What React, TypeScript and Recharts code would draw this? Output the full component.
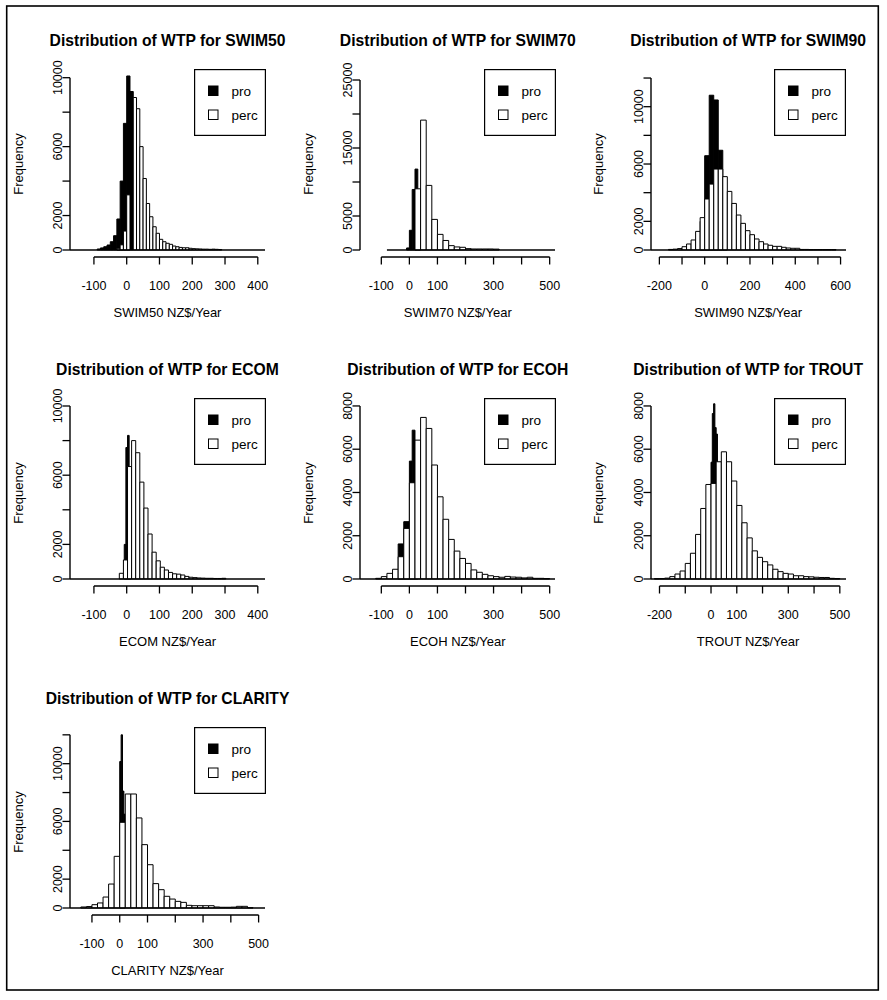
import React from 'react';
import { ComposedChart, XAxis, YAxis, ReferenceArea, ReferenceLine, Legend } from 'recharts';

const FONT = '"Liberation Sans", Arial, Helvetica, sans-serif';

// ---------- data: histogram counts (bins given by start + width) ----------
// SWIM50
const swim50ProStart = -90;
const swim50ProWidth = 10;
const swim50Pro = [60, 120, 190, 290, 480, 830, 1800, 4000, 7350, 10100, 9200];
const swim50PercStart = -30;
const swim50PercWidth = 10;
const swim50Perc = [100, 300, 1100, 3200, 0, 8850, 8200, 6000, 4150, 2700, 1930, 1350, 970, 620, 480, 390, 330, 230, 190, 150, 130, 130, 100, 80, 70, 60, 50, 50, 40, 50, 40, 30];

// SWIM70
const swim70ProStart = -10;
const swim70ProWidth = 10;
const swim70Pro = [300, 2900, 8900, 11900, 6000];
const swim70PercStart = 20;
const swim70PercWidth = 20;
const swim70Perc = [9000, 19100, 9500, 4500, 2300, 1400, 640, 450, 400, 200, 150, 150, 150, 150, 130];

// SWIM90
const swim90ProStart = -20;
const swim90ProWidth = 20;
const swim90Pro = [2000, 6580, 10800, 10470, 6960, 3000];
const swim90PercStart = -160;
const swim90PercWidth = 20;
const swim90Perc = [40, 60, 100, 230, 420, 700, 1300, 2260, 3560, 4600, 5650, 5650, 5120, 4090, 3250, 2440, 1860, 1350, 1070, 770, 580, 420, 330, 255, 255, 190, 140, 120, 120, 40, 40, 30, 30, 30, 30, 30, 30];

// ECOM
const ecomProStart = -7.5;
const ecomProWidth = 5;
const ecomPro = [2000, 7600, 8300, 3000];
const ecomPercStart = -22.5;
const ecomPercWidth = 12.5;
const ecomPerc = [330, 1100, 6500, 8000, 7300, 5600, 4100, 2600, 1550, 1050, 680, 520, 380, 300, 280, 230, 150, 100, 80, 60, 50, 40, 40, 30, 30, 40];

// ECOH
const ecohProStart = -40;
const ecohProWidth = 10;
const ecohPro = [1620, 1620, 2650, 2650, 5450, 6880, 4000];
const ecohPercStart = -120;
const ecohPercWidth = 20;
const ecohPerc = [30, 110, 260, 450, 1030, 2340, 4450, 6420, 7470, 6960, 5270, 3800, 2760, 1830, 1290, 950, 720, 420, 310, 215, 150, 110, 80, 120, 90, 80, 50, 80, 30, 30, 20];

// TROUT
const troutProStart = 0;
const troutProWidth = 5;
const troutPro = [5400, 7650, 8100, 7000, 6700, 3000];
const troutPercStart = -220;
const troutPercWidth = 20;
const troutPerc = [15, 20, 40, 110, 230, 370, 720, 1190, 2060, 3260, 4370, 4420, 5420, 5880, 5420, 4530, 3400, 2600, 1900, 1300, 1000, 800, 650, 450, 340, 260, 230, 150, 150, 110, 100, 80, 70, 70, 30, 20];

// CLARITY
const clarityProStart = 0;
const clarityProWidth = 5;
const clarityPro = [10150, 12000, 8100, 6500];
const clarityPercStart = -140;
const clarityPercWidth = 20;
const clarityPerc = [70, 100, 230, 350, 760, 1660, 3580, 5940, 7900, 7900, 6240, 4390, 3000, 1690, 1270, 810, 620, 460, 390, 185, 160, 160, 160, 160, 70, 50, 50, 60, 115, 115, 20];

// ---------- axes ----------
const ticksX_m100_400 = [-100, 0, 100, 200, 300, 400];
const ticksX_m100_500 = [-100, 0, 100, 200, 300, 400, 500];
const ticksX_m200_600 = [-200, -100, 0, 100, 200, 300, 400, 500, 600];
const ticksX_m200_500 = [-200, -100, 0, 100, 200, 300, 400, 500];
const labelsX_m100_500 = [-100, 0, 100, 300, 500];
const labelsX_m200_600 = [-200, 0, 200, 400, 600];
const labelsX_m200_500 = [-200, 0, 100, 300, 500];

const ticksY10k = [0, 2000, 4000, 6000, 8000, 10000];
const ticksY12k = [0, 2000, 4000, 6000, 8000, 10000, 12000];
const ticksY8k = [0, 2000, 4000, 6000, 8000];
const ticksY25k = [0, 5000, 10000, 15000, 20000, 25000];
const labelsY10k = [0, 2000, 6000, 10000];
const labelsY25k = [0, 5000, 15000, 25000];

const seriesNames = ['pro', 'perc'];

type Bin = { lo: number; hi: number; n: number };
function toBins(start: number, width: number, counts: number[]): Bin[] {
  return counts
    .map((n, i) => ({ lo: start + i * width, hi: start + (i + 1) * width, n }))
    .filter((b) => b.n > 0);
}

type PanelCfg = {
  name: string;
  col: number;
  row: number;
  xDomain: [number, number];
  yDomain: [number, number];
  xTicks: number[];
  xLabels: number[];
  yTicks: number[];
  yLabels: number[];
  pro: Bin[];
  perc: Bin[];
  baseFrom: number;
};

const panels: PanelCfg[] = [
  { name: 'SWIM50', col: 0, row: 0, xDomain: [-173, 422], yDomain: [-406, 10563], xTicks: ticksX_m100_400, xLabels: ticksX_m100_400, yTicks: ticksY10k, yLabels: labelsY10k, pro: toBins(swim50ProStart, swim50ProWidth, swim50Pro), perc: toBins(swim50PercStart, swim50PercWidth, swim50Perc), baseFrom: -173 },
  { name: 'SWIM70', col: 1, row: 0, xDomain: [-176, 519], yDomain: [-1029, 26765], xTicks: ticksX_m100_500, xLabels: labelsX_m100_500, yTicks: ticksY25k, yLabels: labelsY25k, pro: toBins(swim70ProStart, swim70ProWidth, swim70Pro), perc: toBins(swim70PercStart, swim70PercWidth, swim70Perc), baseFrom: -80 },
  { name: 'SWIM90', col: 2, row: 0, xDomain: [-237, 624], yDomain: [-488, 12700], xTicks: ticksX_m200_600, xLabels: labelsX_m200_600, yTicks: ticksY12k, yLabels: labelsY10k, pro: toBins(swim90ProStart, swim90ProWidth, swim90Pro), perc: toBins(swim90PercStart, swim90PercWidth, swim90Perc), baseFrom: -237 },
  { name: 'ECOM', col: 0, row: 1, xDomain: [-173, 422], yDomain: [-405, 10520], xTicks: ticksX_m100_400, xLabels: ticksX_m100_400, yTicks: ticksY10k, yLabels: labelsY10k, pro: toBins(ecomProStart, ecomProWidth, ecomPro), perc: toBins(ecomPercStart, ecomPercWidth, ecomPerc), baseFrom: -173 },
  { name: 'ECOH', col: 1, row: 1, xDomain: [-176, 519], yDomain: [-324, 8414], xTicks: ticksX_m100_500, xLabels: labelsX_m100_500, yTicks: ticksY8k, yLabels: ticksY8k, pro: toBins(ecohProStart, ecohProWidth, ecohPro), perc: toBins(ecohPercStart, ecohPercWidth, ecohPerc), baseFrom: -176 },
  { name: 'TROUT', col: 2, row: 1, xDomain: [-233, 524], yDomain: [-324, 8414], xTicks: ticksX_m200_500, xLabels: labelsX_m200_500, yTicks: ticksY8k, yLabels: ticksY8k, pro: toBins(troutProStart, troutProWidth, troutPro), perc: toBins(troutPercStart, troutPercWidth, troutPerc), baseFrom: -233 },
  { name: 'CLARITY', col: 0, row: 2, xDomain: [-179, 523], yDomain: [-485, 12612], xTicks: ticksX_m100_500, xLabels: labelsX_m100_500, yTicks: ticksY12k, yLabels: labelsY10k, pro: toBins(clarityProStart, clarityProWidth, clarityPro), perc: toBins(clarityPercStart, clarityPercWidth, clarityPerc), baseFrom: -179 },
];

// ---------- layout ----------
const X0 = 7;
const Y0 = 6;
const COL_W = 290.3;
const ROW_H = 329;
const CW = 290;
const CH = 329;
const M = { top: 62, right: 32, bottom: 77, left: 62 };
const AXW = 1; // axis box size (plot = margins + 1)
const PW = CW - M.left - AXW - M.right; // 195
const LEG_W = 72;
const LEG_H = 67;

const makeXTick = (shown: number[]) => (p: any) => {
  const v = p.payload.value;
  if (!shown.includes(v)) return <g />;
  return (
    <text x={p.x} y={p.y + 25} textAnchor="middle" fontSize={12.5} fontFamily={FONT} fill="#000">
      {v}
    </text>
  );
};

const makeYTick = (shown: number[]) => (p: any) => {
  const v = p.payload.value;
  if (!shown.includes(v)) return <g />;
  return (
    <text transform={`translate(${p.x - 1},${p.y}) rotate(-90)`} textAnchor="middle" fontSize={12.5} fontFamily={FONT} fill="#000">
      {v}
    </text>
  );
};

const LegendBox = () => (
  <svg width={LEG_W} height={LEG_H} style={{ display: 'block' }}>
    <rect x={0.6} y={0.6} width={LEG_W - 1.2} height={LEG_H - 1.2} fill="#fff" stroke="#000" strokeWidth={1.2} />
    {seriesNames.map((s, i) => (
      <g key={s}>
        <rect x={14.5} y={17 + i * 24} width={9.5} height={9.5} fill={i === 0 ? '#000' : '#fff'} stroke="#000" strokeWidth={1} />
        <text x={37.5} y={27 + i * 24} fontSize={13.5} fontFamily={FONT} fill="#000">
          {s}
        </text>
      </g>
    ))}
  </svg>
);

function Panel({ p }: { p: PanelCfg }) {
  const left = X0 + p.col * COL_W;
  const top = Y0 + p.row * ROW_H;
  const data = p.perc.map((b) => ({ x: (b.lo + b.hi) / 2, n: b.n }));
  const [xlo, xhi] = p.xDomain;
  const ylo = p.yDomain[0];
  const firstX = p.xTicks[0];
  const lastX = p.xTicks[p.xTicks.length - 1];
  const topY = p.yTicks[p.yTicks.length - 1];
  const tl = { stroke: '#000', strokeWidth: 1.3 };
  return (
    <div style={{ position: 'absolute', left, top, width: CW, height: CH }}>
      <ComposedChart width={CW} height={CH} margin={M} data={data}>
        <XAxis
          type="number"
          dataKey="x"
          domain={p.xDomain}
          allowDataOverflow
          ticks={p.xTicks}
          interval={0}
          height={AXW}
          axisLine={false}
          tickLine={tl}
          stroke="#000"
          tickSize={7.5}
          tickMargin={0}
          tick={makeXTick(p.xLabels)}
        />
        <YAxis
          type="number"
          domain={p.yDomain}
          allowDataOverflow
          ticks={p.yTicks}
          interval={0}
          width={AXW}
          axisLine={false}
          tickLine={tl}
          stroke="#000"
          tickSize={7.5}
          tickMargin={0}
          tick={makeYTick(p.yLabels)}
        />
        <ReferenceLine
          segment={[{ x: p.baseFrom, y: 0 }, { x: xhi, y: 0 }]}
          stroke="#000"
          strokeWidth={1.3}
          ifOverflow="visible"
        />
        {p.pro.map((b, i) => (
          <ReferenceArea
            key={'pro' + i}
            x1={b.lo}
            x2={b.hi}
            y1={0}
            y2={b.n}
            fill="#000"
            fillOpacity={1}
            stroke="#000"
            strokeWidth={1}
            strokeOpacity={1}
            ifOverflow="hidden"
          />
        ))}
        {p.perc.map((b, i) => (
          <ReferenceArea
            key={'perc' + i}
            x1={b.lo}
            x2={b.hi}
            y1={0}
            y2={b.n}
            fill="#fff"
            fillOpacity={1}
            stroke="#000"
            strokeWidth={1}
            strokeOpacity={1}
            ifOverflow="hidden"
          />
        ))}
        <ReferenceLine
          segment={[{ x: firstX, y: ylo }, { x: lastX, y: ylo }]}
          stroke="#000"
          strokeOpacity={1}
          strokeWidth={1.4}
          ifOverflow="visible"
        />
        <ReferenceLine
          segment={[{ x: xlo, y: 0 }, { x: xlo, y: topY }]}
          stroke="#000"
          strokeOpacity={1}
          strokeWidth={1.4}
          ifOverflow="visible"
        />
        <Legend
          layout="vertical"
          align="center"
          verticalAlign="middle"
          content={() => <LegendBox />}
          wrapperStyle={{ left: M.left + AXW + PW - LEG_W + 0.5, top: M.top + 1, width: LEG_W, height: LEG_H }}
        />
      </ComposedChart>
    </div>
  );
}

export default function App() {
  return (
    <div style={{ position: 'absolute', left: 0, top: 0, width: 887, height: 1000, background: '#fff', fontFamily: FONT }}>
      {panels.map((p) => (
        <Panel key={p.name} p={p} />
      ))}
      <svg width={887} height={1000} style={{ position: 'absolute', left: 0, top: 0, pointerEvents: 'none' }}>
        <rect x={6.7} y={6} width={871.6} height={984} fill="none" stroke="#000" strokeWidth={1.6} />
        {panels.map((p) => {
          const left = X0 + p.col * COL_W;
          const top = Y0 + p.row * ROW_H;
          const cx = left + M.left + AXW + PW / 2;
          return (
            <g key={p.name} fontFamily={FONT} fill="#000">
              <text x={cx} y={top + 40} textAnchor="middle" fontWeight="bold" fontSize={15.7}>
                {`Distribution of WTP for ${p.name}`}
              </text>
              <text x={cx} y={top + 311} textAnchor="middle" fontSize={13}>
                {`${p.name} NZ$/Year`}
              </text>
              <text transform={`translate(${left + 15.5},${top + 158}) rotate(-90)`} textAnchor="middle" fontSize={13}>
                Frequency
              </text>
            </g>
          );
        })}
      </svg>
    </div>
  );
}
